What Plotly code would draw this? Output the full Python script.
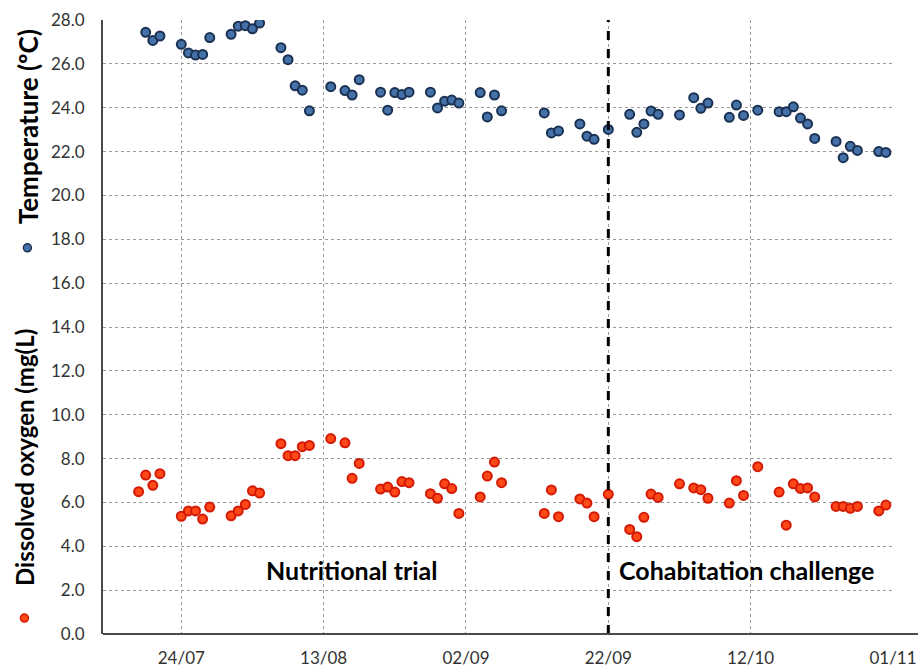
import plotly.graph_objects as go
from datetime import datetime

YEAR = 2014

def to_date(s):
    d, m = s.split("/")
    return datetime(YEAR, int(m), int(d))

temp_dates = ["19/07","20/07","21/07","24/07","25/07","26/07","27/07","28/07","31/07","01/08","02/08","03/08","04/08",
              "07/08","08/08","09/08","10/08","11/08","14/08","16/08","17/08","18/08","21/08","22/08","23/08","24/08","25/08",
              "28/08","29/08","30/08","31/08","01/09","04/09","05/09","06/09","07/09","13/09","14/09","15/09",
              "18/09","19/09","20/09","22/09","25/09","26/09","27/09","28/09","29/09","02/10","04/10","05/10","06/10",
              "09/10","10/10","11/10","13/10","16/10","17/10","18/10","19/10","20/10","21/10","24/10","25/10","26/10","27/10",
              "30/10","31/10"]
temp_vals = [27.44,27.07,27.27,26.89,26.5,26.4,26.43,27.2,27.35,27.72,27.74,27.6,27.86,
             26.74,26.19,25.0,24.8,23.86,24.96,24.78,24.58,25.28,24.71,23.89,24.69,24.6,24.71,
             24.71,23.99,24.3,24.35,24.21,24.69,23.58,24.58,23.86,23.76,22.85,22.94,
             23.26,22.7,22.56,23.01,23.7,22.88,23.26,23.85,23.7,23.67,24.46,23.97,24.21,
             23.56,24.12,23.65,23.89,23.82,23.82,24.04,23.53,23.26,22.6,22.46,21.72,22.24,22.05,
             22.0,21.96]

oxy_dates = ["18/07","19/07","20/07","21/07","24/07","25/07","26/07","27/07","28/07","31/07","01/08","02/08","03/08","04/08",
             "07/08","08/08","09/08","10/08","11/08","14/08","16/08","17/08","18/08","21/08","22/08","23/08","24/08","25/08",
             "28/08","29/08","30/08","31/08","01/09","04/09","05/09","06/09","07/09","13/09","14/09","15/09",
             "18/09","19/09","20/09","22/09","25/09","26/09","27/09","28/09","29/09","02/10","04/10","05/10","06/10",
             "09/10","10/10","11/10","13/10","16/10","17/10","18/10","19/10","20/10","21/10","24/10","25/10","26/10","27/10",
             "30/10","31/10"]
oxy_vals = [6.49,7.25,6.78,7.31,5.37,5.61,5.61,5.24,5.79,5.39,5.61,5.91,6.53,6.43,
            8.68,8.13,8.13,8.54,8.6,8.91,8.72,7.1,7.78,6.61,6.70,6.47,6.95,6.9,
            6.4,6.19,6.85,6.63,5.5,6.25,7.2,7.84,6.9,5.5,6.57,5.35,
            6.16,5.97,5.35,6.37,4.77,4.44,5.32,6.38,6.23,6.85,6.66,6.58,6.19,
            5.97,6.99,6.32,7.63,6.47,4.96,6.85,6.64,6.66,6.25,5.82,5.82,5.73,5.82,
            5.61,5.88]

x_range = ["13/07", "01/11"]
tick_labels = ["24/07", "13/08", "02/09", "22/09", "12/10", "01/11"]
phase_change = "22/09"
y_ticks = [0, 2, 4, 6, 8, 10, 12, 14, 16, 18, 20, 22, 24, 26, 28]

TEMP_FILL, TEMP_LINE = "#4472a8", "#1b3152"
OXY_FILL, OXY_LINE = "#ff4818", "#d41a04"
FONT = "Lato"

fig = go.Figure()
fig.add_trace(go.Scatter(
    x=[to_date(d) for d in temp_dates], y=temp_vals, mode="markers",
    marker=dict(size=9, color=TEMP_FILL, line=dict(color=TEMP_LINE, width=2)),
    name="Temperature (ºC)", showlegend=False))
fig.add_trace(go.Scatter(
    x=[to_date(d) for d in oxy_dates], y=oxy_vals, mode="markers",
    marker=dict(size=9, color=OXY_FILL, line=dict(color=OXY_LINE, width=2)),
    name="Dissolved oxygen (mg(L)", showlegend=False))

grid = dict(showgrid=True, gridcolor="#9a9a9a", gridwidth=1, griddash="dot")
fig.update_xaxes(
    type="date", range=[to_date(x_range[0]), to_date(x_range[1])],
    tickvals=[to_date(t) for t in tick_labels], ticktext=tick_labels,
    ticks="", ticklabelstandoff=12, zeroline=False, showline=False, automargin=False,
    tickfont=dict(family=FONT, size=17, color="#333333"), **grid)
fig.update_yaxes(
    range=[0, 28], tickvals=y_ticks, ticktext=[f"{v:.1f}" for v in y_ticks],
    ticks="", ticklabelstandoff=13, zeroline=False, automargin=False,
    showline=True, linecolor="#4a4a4a", linewidth=2,
    tickfont=dict(family=FONT, size=17, color="#333333"), **grid)

shapes = [
    dict(type="line", xref="x", yref="paper", x0=to_date(phase_change), x1=to_date(phase_change),
         y0=0, y1=1, line=dict(color="black", width=3, dash="dash")),
    dict(type="line", xref="paper", yref="paper", x0=0, x1=1.035, y0=0, y1=0,
         line=dict(color="#4a4a4a", width=2)),
    dict(type="circle", xref="paper", yref="paper", xsizemode="pixel", ysizemode="pixel",
         xanchor=-0.0957, yanchor=0.629, x0=-4, x1=4, y0=-4, y1=4,
         fillcolor=TEMP_FILL, line=dict(color=TEMP_LINE, width=1.5)),
    dict(type="circle", xref="paper", yref="paper", xsizemode="pixel", ysizemode="pixel",
         xanchor=-0.0995, yanchor=0.026, x0=-4, x1=4, y0=-4, y1=4,
         fillcolor=OXY_FILL, line=dict(color=OXY_LINE, width=1.5)),
]

annotations = [
    dict(text="<b>Temperature (ºC)</b>", xref="paper", yref="paper", x=-0.0957, y=0.826,
         xanchor="center", yanchor="middle",
         textangle=-90, showarrow=False, font=dict(family=FONT, size=26, color="black")),
    dict(text="<b>Dissolved oxygen (mg(L)</b>", xref="paper", yref="paper", x=-0.0985, y=0.287,
         xanchor="center", yanchor="middle",
         textangle=-90, showarrow=False, font=dict(family=FONT, size=24, color="black")),
    dict(text="<b>Nutritional trial</b>", xref="paper", yref="paper", x=0.315, y=0.104,
         xanchor="center", yanchor="middle",
         showarrow=False, font=dict(family=FONT, size=25, color="black")),
    dict(text="<b>Cohabitation challenge</b>", xref="paper", yref="paper", x=0.814, y=0.104,
         xanchor="center", yanchor="middle",
         showarrow=False, font=dict(family=FONT, size=25, color="black")),
]

fig.update_layout(
    width=918, height=669,
    margin=dict(l=103, r=25, t=20, b=35),
    plot_bgcolor="white", paper_bgcolor="white",
    shapes=shapes, annotations=annotations,
)

fig.write_html(
    "out.html",
    config={"displayModeBar": False, "staticPlot": True},
    post_script=("document.body.style.margin='0px';"
                 "document.body.style.overflow='hidden';"
                 "document.documentElement.style.overflow='hidden';"),
)
